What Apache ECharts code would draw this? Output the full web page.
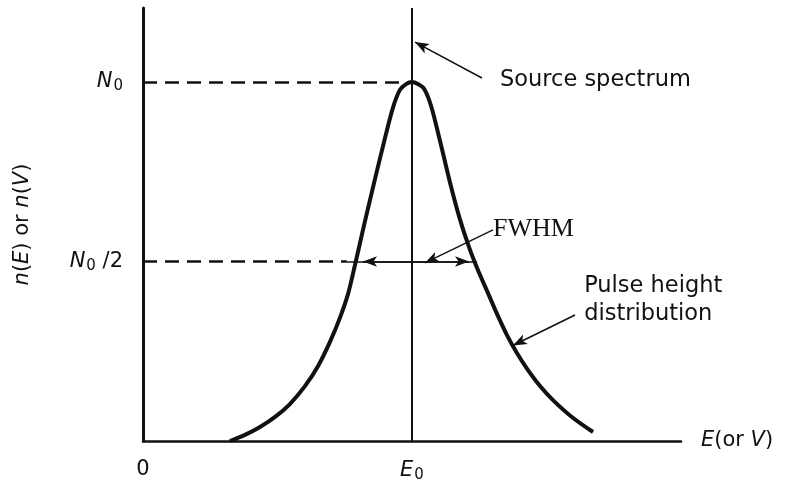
<!DOCTYPE html>
<html>
<head>
<meta charset="utf-8">
<script src="https://cdn.jsdelivr.net/npm/echarts@6/dist/echarts.min.js"></script>
<style>
  html, body { margin: 0; padding: 0; background: #fff; }
  #chart { width: 790px; height: 483px; }
</style>
</head>
<body>
<div id="chart"></div>
<script>
// energy in units of E0, counts in units of N0
const energy = [0.323, 0.379, 0.435, 0.491, 0.546, 0.602, 0.651, 0.695, 0.732, 0.762, 0.788, 0.822, 0.859, 0.896, 0.929, 0.955, 0.978, 1.0,
                1.022, 1.045, 1.071, 1.104, 1.141, 1.178, 1.212, 1.245, 1.279, 1.316, 1.353, 1.390, 1.428, 1.476, 1.524, 1.599, 1.673];
const counts = [0, 0.017, 0.039, 0.067, 0.103, 0.153, 0.209, 0.276, 0.343, 0.409, 0.490, 0.602, 0.719, 0.833, 0.928, 0.978, 0.994, 1.0,
                0.994, 0.981, 0.933, 0.836, 0.721, 0.618, 0.540, 0.476, 0.418, 0.354, 0.295, 0.245, 0.201, 0.153, 0.114, 0.064, 0.025];

const peakE = 1;       // E0
const peakN = 1;       // N0
const halfLeft = 0.788;
const halfRight = 1.242;

// annotation text anchors [x, y, text]
const notes = [
    [1.327, 1.006, 'src'],
    [1.301, 0.590, 'fwhm'],
    [1.640, 0.392, 'pulse']
];
// annotation arrows [from, to]
const arrows = [
    [[1.260, 1.011], [1.011, 1.111]],
    [[1.301, 0.588], [1.048, 0.496]],
    [[1.606, 0.351], [1.375, 0.266]]
];

const black = '#111';
const sans = 'DejaVu Sans';

const chart = echarts.init(document.getElementById('chart'));

const sub = {
    i: { fontStyle: 'italic', fontSize: 21, fontFamily: sans, color: black },
    n: { fontSize: 21, fontFamily: sans, color: black },
    s: { fontSize: 15, fontFamily: sans, color: black, padding: [9, 0, 0, 1] }
};

let curve = energy.map((e, k) => [e, counts[k]]);

const solid = w => ({ type: 'solid', width: w, color: black });
const dashed = { type: [14, 8], width: 2.5, color: black };

let markLines = [];
const seg = (a, b, style, arrow) => {
    markLines.push([
        { coord: a, symbol: 'none', lineStyle: style },
        { coord: b, symbol: arrow ? 'arrow' : 'none', symbolSize: [8, 14] }
    ]);
};
seg([0, peakN], [peakE, peakN], dashed);
seg([0, peakN / 2], [halfLeft - 0.03, peakN / 2], dashed);
seg([halfLeft - 0.03, peakN / 2], [halfRight, peakN / 2], solid(1.5));
seg([peakE, peakN / 2], [0.818, peakN / 2], solid(1.5), true);
seg([peakE, peakN / 2], [1.212, peakN / 2], solid(1.5), true);
seg([peakE, 0], [peakE, 1.206], solid(2));
arrows.forEach(a => seg(a[0], a[1], solid(1.5), true));

const noteText = {
    src: 'Source spectrum',
    fwhm: '{f|FWHM}',
    pulse: 'Pulse height\ndistribution'
};

option = {
    animation: false,
    backgroundColor: '#fff',
    grid: { left: 143, right: 109, top: 8, bottom: 42, containLabel: false, outerBoundsMode: 'none' },
    xAxis: {
        type: 'value',
        min: 0,
        max: 2,
        interval: 1,
        name: '{i|E}{n|(or }{i|V}{n|)}',
        nameLocation: 'end',
        nameGap: 20,
        nameTextStyle: { rich: sub },
        axisLine: { lineStyle: { color: black, width: 2.5 } },
        axisTick: { show: false },
        splitLine: { show: false },
        axisLabel: {
            margin: 18,
            formatter: v => v === 0 ? '{n|0}' : (v === 1 ? '{i|E}{s|0}' : ''),
            rich: sub
        }
    },
    yAxis: {
        type: 'value',
        min: 0,
        max: 1.206,
        interval: 0.5,
        name: '{i|n}{n|(}{i|E}{n|) or }{i|n}{n|(}{i|V}{n|)}',
        nameLocation: 'middle',
        nameRotate: 90,
        nameGap: 110,
        nameTextStyle: { rich: sub },
        axisLine: { lineStyle: { color: black, width: 3 } },
        axisTick: { show: false },
        splitLine: { show: false },
        axisLabel: {
            margin: 20,
            formatter: v => v === 1 ? '{i|N}{s|0}' : (v === 0.5 ? '{i|N}{s|0}{n| /2}' : ''),
            rich: sub
        }
    },
    series: [
        {
            type: 'line',
            data: curve,
            smooth: 0.3,
            showSymbol: false,
            lineStyle: { color: black, width: 4, join: 'round' },
            markLine: {
                silent: true,
                symbol: ['none', 'none'],
                label: { show: false },
                data: markLines
            },
            z: 3
        },
        {
            type: 'scatter',
            data: notes,
            symbolSize: 0,
            silent: true,
            itemStyle: { opacity: 1 },
            label: {
                show: true,
                position: 'right',
                distance: 0,
                color: black,
                fontFamily: sans,
                fontSize: 22.5,
                lineHeight: 28,
                formatter: p => noteText[p.value[2]],
                rich: { f: { fontFamily: 'Liberation Serif', fontSize: 26, color: black } }
            }
        }
    ]
};

chart.setOption(option);
</script>
</body>
</html>
